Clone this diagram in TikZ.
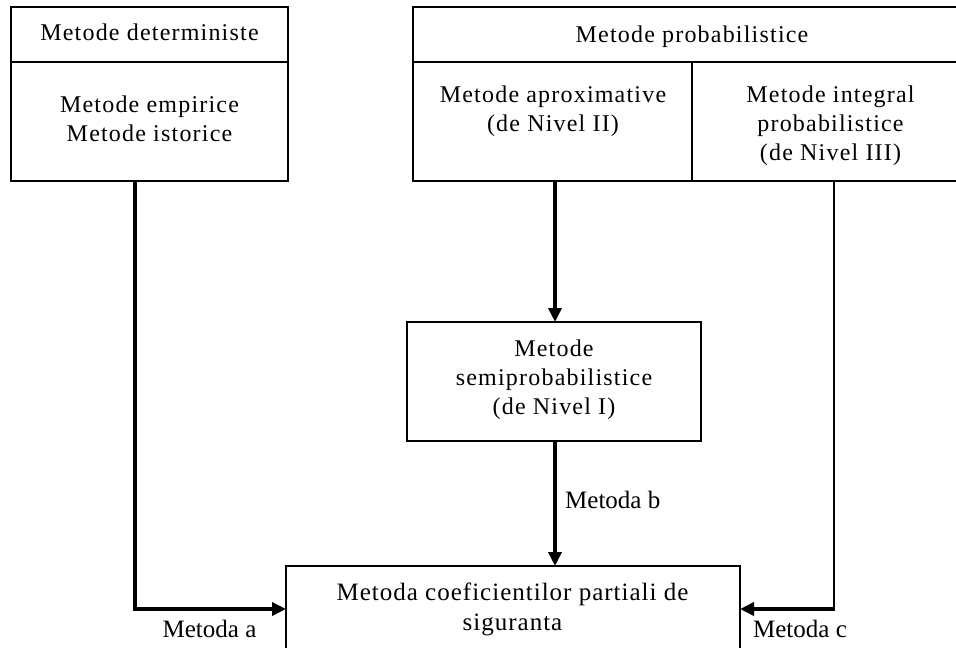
\documentclass[tikz,border=0pt]{standalone}
\usepackage{fontspec}
\setmainfont{Liberation Serif}
\newfontfamily\spaced[LetterSpace=5]{Liberation Serif}
\newfontfamily\slight[LetterSpace=4]{Liberation Serif}
\usetikzlibrary{arrows.meta}
\newcommand\mylines[1]{\begin{tabular}[t]{@{}c@{}}#1\end{tabular}}
\begin{document}
\begin{tikzpicture}[x=1pt,y=-1pt,
  cell/.style={draw=black,line width=1.3pt,rectangle,inner sep=0pt,outer sep=0pt},
  txt/.style={font=\spaced\fontsize{24}{29}\selectfont,anchor=base,inner sep=0pt},
  lab/.style={font=\fontsize{25}{29}\selectfont,anchor=base,inner sep=0pt},
  conn/.style={line width=3.5pt,line join=miter,-{Triangle[length=14pt,width=13pt]}},
  thinconn/.style={line width=1.5pt}]
\fill[white] (0,0) rectangle (956,648);
\useasboundingbox (0,0) rectangle (956,648);

% cells
\node[cell,minimum width=277pt,minimum height=55pt] (ldet) at (149.5,34.5) {};
\node[cell,minimum width=277pt,minimum height=119pt] (lemp) at (149.5,121.5) {};
\node[cell,minimum width=558pt,minimum height=55pt] (prob) at (692,34.5) {};
\node[cell,minimum width=279pt,minimum height=119pt] (aprox) at (552.5,121.5) {};
\node[cell,minimum width=279pt,minimum height=119pt] (integ) at (831.5,121.5) {};
\node[cell,minimum width=294pt,minimum height=119pt] (semi) at (554,381.5) {};
\node[cell,minimum width=454pt,minimum height=134pt] (coef) at (513,633) {};

% texts
\node[txt] (tdet) at (149.5,40.7) {Metode deterministe};
\node[txt] (temp) at (149.5,112) {\mylines{Metode empirice\\Metode istorice}};
\node[txt] (tprob) at (692,42) {Metode probabilistice};
\node[txt] (taprox) at (553,102) {\mylines{Metode aproximative\\(de Nivel II)}};
\node[txt] (tinteg) at (830.5,102) {\mylines{Metode integral\\probabilistice\\(de Nivel III)}};
\node[txt] (tsemi) at (554,356) {\mylines{Metode\\semiprobabilistice\\(de Nivel I)}};
\node[txt,font=\slight\fontsize{25}{29.5}\selectfont] (tcoef) at (512.5,600.7) {\mylines{Metoda coeficientilor partiali de\\siguranta}};

% labels
\node[lab] (la) at (209.5,637) {Metoda a};
\node[lab,anchor=base west] (lb) at (565,508) {Metoda b};
\node[lab] (lc) at (800,637) {Metoda c};

% connectors
\coordinate (ta) at (135,609);
\coordinate (tb) at (555,0);
\coordinate (tc) at (834,609);
\draw[conn] (lemp.south -| ta) |- (coef.west |- ta);
\draw[conn] (aprox.south -| tb) -- (semi.north -| tb);
\draw[conn] (semi.south -| tb) -- (coef.north -| tb);
\draw[thinconn] (integ.south -| tc) -- (tc);
\draw[conn] ([xshift=0.75pt]tc) -- (coef.east |- tc);
\end{tikzpicture}
\end{document}
